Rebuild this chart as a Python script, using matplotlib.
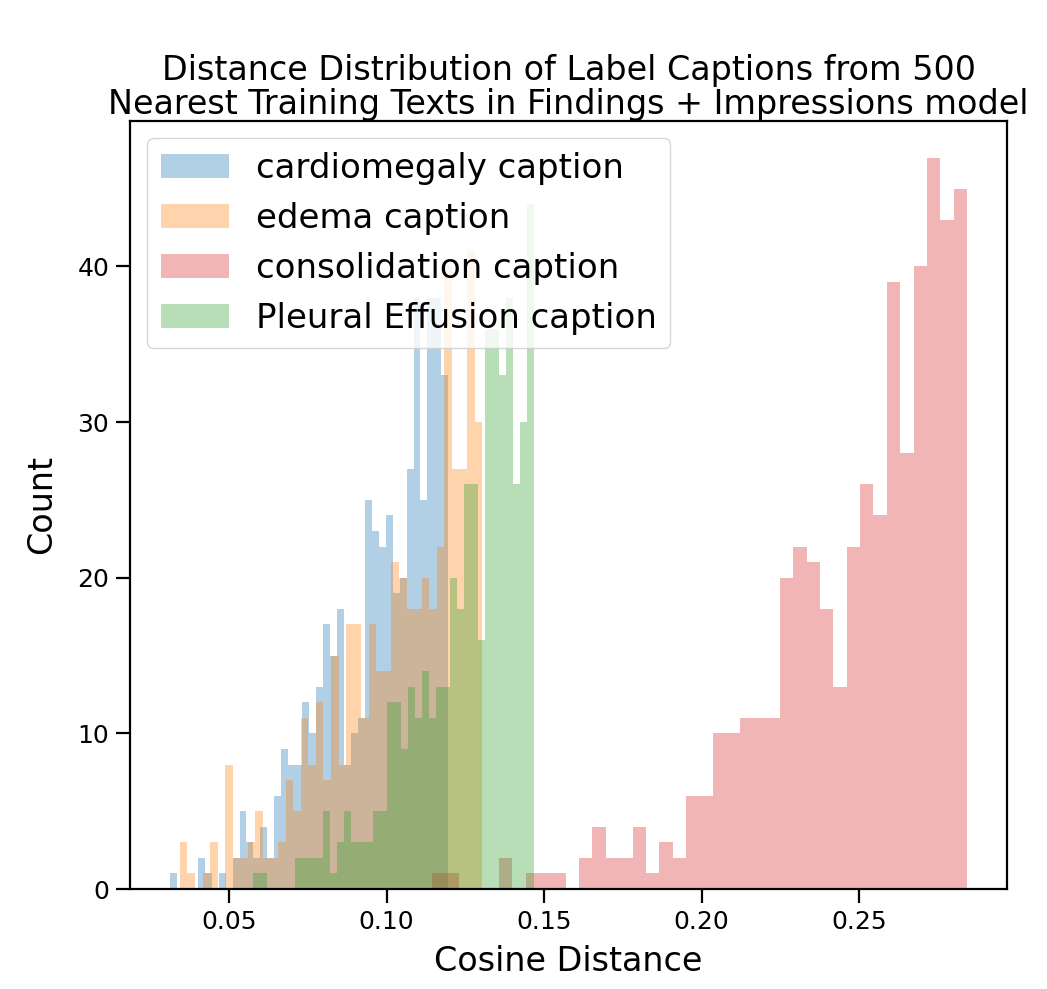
import numpy as np
import matplotlib
matplotlib.use("Agg")
from matplotlib import pyplot as plt

# legend labels and colours, in plotting order
labels = ['cardiomegaly caption', 'edema caption',
          'consolidation caption', 'Pleural Effusion caption']
colors = ['tab:blue', 'tab:orange', 'tab:red', 'tab:green']

# each histogram: 40 equal bins between the min and max distance
cardio_range = (0.03125, 0.11961)
cardio_counts = [1, 0, 0, 0, 2, 1, 0, 1, 0, 2,
                 5, 3, 2, 4, 2, 6, 9, 8, 8, 12,
                 10, 13, 17, 15, 18, 8, 10, 11, 25, 23,
                 22, 24, 19, 20, 27, 38, 25, 38, 38, 33]

edema_range = (0.03442, 0.13032)
edema_counts = [3, 1, 0, 1, 3, 0, 8, 2, 2, 3,
                5, 2, 2, 3, 7, 5, 11, 8, 12, 7,
                15, 8, 17, 17, 11, 17, 14, 14, 21, 20,
                18, 18, 20, 18, 22, 40, 27, 27, 41, 30]

consol_range = (0.11440, 0.28427)
consol_counts = [1, 1, 0, 0, 0, 2, 0, 1, 1, 1,
                 0, 2, 4, 2, 2, 4, 1, 3, 2, 6,
                 6, 10, 10, 11, 11, 11, 20, 22, 21, 18,
                 13, 22, 26, 24, 39, 28, 40, 47, 43, 45]

pleural_range = (0.05772, 0.14673)
pleural_counts = [1, 1, 0, 0, 0, 0, 2, 2, 2, 2,
                  5, 1, 3, 5, 3, 3, 3, 5, 5, 12,
                  12, 9, 13, 11, 14, 11, 13, 13, 20, 18,
                  26, 26, 16, 36, 36, 33, 38, 26, 30, 44]

ranges = [cardio_range, edema_range, consol_range, pleural_range]
counts = [cardio_counts, edema_counts, consol_counts, pleural_counts]

fig = plt.figure(figsize=(10.47, 9.89), dpi=100)
ax = fig.add_axes([0.1242, 0.1011, 0.8376, 0.7766])

for rng, cnt, lab, col in zip(ranges, counts, labels, colors):
    edges = np.linspace(rng[0], rng[1], len(cnt) + 1)
    mids = (edges[:-1] + edges[1:]) / 2
    ax.hist(mids, bins=edges, weights=cnt, alpha=0.34, color=col, label=lab)

ax.set_title('Distance Distribution of Label Captions from 500\n'
             'Nearest Training Texts in Findings + Impressions model',
             fontsize=24, linespacing=1.05, pad=4)
ax.set_xlabel('Cosine Distance', fontsize=24, labelpad=8)
ax.set_ylabel('Count', fontsize=24, labelpad=14)
ax.tick_params(labelsize=18, length=10, width=1.6, pad=5)
for s in ax.spines.values():
    s.set_linewidth(1.6)
ax.legend(loc='upper left', fontsize=24.5)

plt.savefig('out.png', dpi=100)
